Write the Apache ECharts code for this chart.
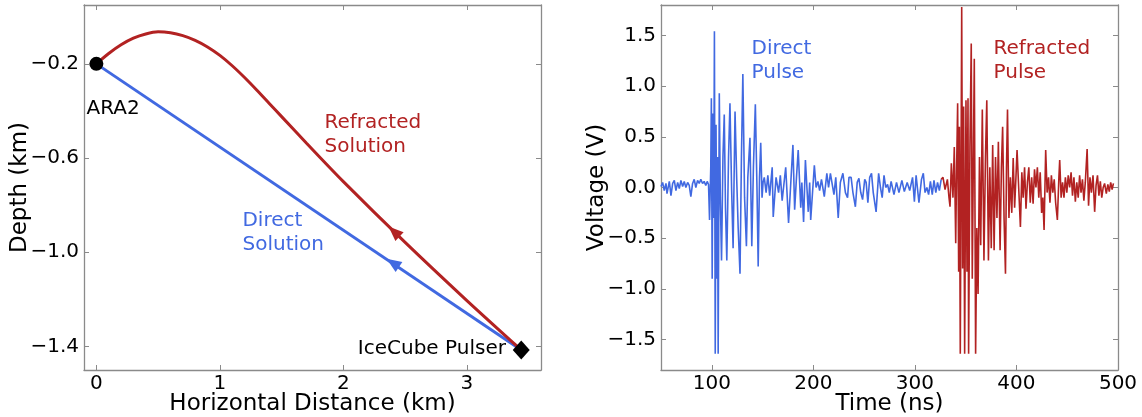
<!DOCTYPE html>
<html>
<head>
<meta charset="utf-8">
<script src="https://cdn.jsdelivr.net/npm/echarts@6/dist/echarts.min.js"></script>
<style>
  html, body { margin: 0; padding: 0; background: #fff; }
  #chart { width: 1142px; height: 417px; }
</style>
</head>
<body>
<div id="chart"></div>
<script>
// left panel: ray paths (km)
const directRayX = [0, 3.44];
const directRayY = [-0.2, -1.415];
const refractedRayX = [0, 0.1, 0.2, 0.3, 0.4, 0.5, 0.6, 0.7, 0.8, 0.9, 1.0, 1.1, 1.2, 1.3, 1.4, 1.5, 1.7, 2.0, 2.5, 3.0, 3.44];
const refractedRayY = [-0.2, -0.156, -0.119, -0.091, -0.073, -0.064, -0.068, -0.08, -0.1, -0.128, -0.164, -0.208, -0.258, -0.312, -0.368, -0.424, -0.536, -0.7, -0.958, -1.205, -1.415];
const stationPos = [0, -0.2];
const pulserPos = [3.44, -1.415];
const directArrow = [2.40, -1.045];
const refractedArrow = [2.41, -0.912];

// right panel: waveform (ns, V)
const directPulseT = [
  50.0, 51.6, 53.2, 54.9, 55.9, 58.2, 59.8, 61.5, 63.1, 64.7, 66.4, 68.0, 69.6, 71.3, 72.9, 74.5,
  76.2, 77.8, 79.4, 81.1, 82.7, 84.3, 86.0, 87.6, 89.2, 90.9, 92.5, 94.1, 95.5, 96.8, 97.8,
  99.0, 99.6, 100.4, 101.2, 101.9, 102.6, 103.4, 104.2, 105.0, 105.6, 106.3, 107.4, 108.4, 109.6,
  111.0, 112.3, 113.5, 114.8, 116.5, 117.9, 119.5, 121.0, 122.9, 124.5, 126.0, 127.8, 129.2, 130.6,
  132.3, 134.1, 135.5, 137.6, 139.4, 141.0, 142.9, 144.5, 145.7, 147.0, 148.2, 149.5, 150.5,
  151.7, 153.5, 155.2, 157.0, 159.5, 160.5, 163.3, 165.8, 167.5, 169.3, 172.8, 175.6, 178.1, 179.9,
  181.6, 183.4, 185.1, 187.6, 188.7, 190.4, 192.2, 195.0, 196.4, 197.4, 201.0, 202.7, 204.5, 206.2,
  208.0, 210.8, 213.3, 215.0, 216.8, 220.3, 222.1, 224.5, 226.6, 229.1, 231.6, 233.7, 235.1, 237.2,
  239.0, 241.4, 243.2, 244.9, 246.7, 248.5, 250.6, 252.0, 253.7, 255.5, 257.3, 259.0, 261.8, 264.3,
  266.1, 267.8, 269.6, 271.3, 273.1, 274.8, 276.6, 279.4, 281.9, 284.3, 287.2, 289.6, 292.4, 294.9,
  297.7, 299.5, 301.2, 304.0, 306.5, 308.3, 310.0, 311.8, 313.5, 315.3, 317.1, 318.8, 320.6, 322.3,
  324.1, 325.9
];
const directPulseV = [
  0.01, 0.05, -0.03, 0.04, -0.06, 0.06, -0.08, 0.04, 0.07, -0.03, 0.05, -0.01, 0.07, 0.01, 0.06, 0.0,
  0.05, 0.02, -0.09, 0.04, 0.08, 0.0, 0.07, 0.04, 0.08, 0.04, 0.06, 0.02, 0.06, 0.03, -0.32,
  0.2, 0.88, -0.9, 0.73, -0.3, 1.54, -1.64, 0.62, -0.9, 0.3, -1.64, 0.93, -0.1, -0.72,
  0.3, 0.72, -0.2, -0.72, 0.3, 0.83, 0.0, -0.6, 0.75, 0.1, -0.4, -0.85, 0.3, 1.12,
  -0.1, -0.58, 0.1, 0.49, -0.58, 0.2, 0.82, 0.0, -0.78, 0.1, 0.44, -0.1, 0.05,
  0.1, -0.05, 0.12, -0.08, 0.2, -0.29, 0.1, -0.05, 0.12, -0.13, 0.2, -0.35, 0.1, 0.42,
  -0.22, 0.1, 0.37, -0.2, 0.05, -0.34, 0.27, -0.24, 0.05, -0.32, 0.22, 0.0, 0.06, -0.03,
  0.08, -0.09, 0.14, 0.0, 0.14, -0.07, 0.1, -0.3, 0.05, 0.14, -0.05, -0.1, 0.1, 0.1,
  -0.05, -0.19, 0.05, 0.09, -0.05, -0.12, 0.08, 0.05, -0.15, 0.1, 0.14, -0.05, -0.24, 0.14,
  0.0, -0.1, 0.12, 0.0, 0.03, -0.05, 0.06, -0.07, 0.05, -0.05, 0.07, -0.04, 0.05, -0.03,
  0.1, -0.14, 0.12, -0.15, 0.08, 0.14, -0.05, 0.0, -0.07, 0.06, -0.07, 0.07, -0.05, 0.05,
  -0.03, 0.08
];
const refractedPulseT = [
  325.9, 327.7, 329.7, 332.0, 333.6, 334.6, 335.9, 337.5, 338.8, 340.2, 341.1, 342.1, 343.1, 343.8,
  344.7, 346.1, 347.0, 348.0, 349.0, 350.3, 351.3, 352.3, 352.9, 354.2, 355.5, 356.5, 357.5, 358.5,
  359.8, 361.0, 362.2, 363.6, 364.8, 366.4, 368.0, 369.5, 370.8, 372.4, 373.8, 375.2, 376.6, 378.0,
  379.4, 380.8, 382.2, 383.9, 385.2, 386.4, 387.8, 389.2, 390.2, 391.2, 392.6, 394.0, 395.4, 396.8,
  398.2, 399.5, 400.6, 402.2, 403.9, 405.3, 406.6, 408.0, 409.4, 410.8, 412.2, 413.6, 415.0, 416.4,
  417.8, 419.2, 420.6, 422.0, 423.4, 424.8, 426.0, 427.2, 428.8, 430.2, 431.6, 433.0, 434.4, 435.8,
  437.2, 438.6, 440.3, 441.8, 442.6, 444.0, 445.4, 446.8, 448.2, 449.6, 451.0, 452.4, 453.8, 455.2,
  456.6, 458.0, 459.4, 460.8, 462.2, 463.6, 465.0, 466.4, 467.8, 469.6, 471.0, 472.4, 473.8, 475.4,
  477.0, 478.4, 479.8, 481.2, 482.6, 484.0, 485.4, 486.8, 488.5, 490.0, 491.4, 492.8, 494.2, 495.5
];
const refractedPulseV = [
  0.08, 0.1, -0.02, 0.08, -0.1, -0.19, 0.24, -0.1, 0.4, -0.55, 0.2, 0.83, -0.83, 0.6,
  -1.64, 1.78, -0.8, 0.8, -1.64, 0.86, -0.83, 0.88, -1.64, 0.4, 1.42, -0.9, 0.2, 1.27,
  -1.64, -0.4, -1.05, 0.3, -0.57, 0.77, -0.72, 0.3, 0.86, -0.72, 0.2, -0.6, 0.42, -0.62,
  0.3, -0.3, 0.45, -0.62, 0.2, 0.6, -0.3, -0.85, 0.2, 0.77, -0.3, 0.1, -0.25, 0.29,
  -0.2, 0.1, 0.37, 0.0, -0.39, 0.15, -0.1, 0.2, -0.21, 0.05, 0.2, -0.15, 0.1, -0.16,
  0.18, 0.0, 0.2, -0.1, 0.15, -0.25, -0.1, -0.42, 0.37, -0.05, 0.1, -0.15, 0.12, -0.05,
  0.08, -0.15, -0.32, 0.1, 0.27, -0.1, 0.05, -0.1, 0.1, -0.05, 0.12, 0.0, 0.15, -0.08,
  0.1, -0.14, 0.05, -0.1, 0.12, -0.05, 0.08, -0.13, 0.05, 0.38, -0.18, 0.1, -0.05, 0.12,
  -0.24, 0.02, 0.12, -0.08, 0.06, -0.1, 0.0, 0.04, -0.06, 0.03, -0.04, 0.05, -0.02, 0.04
];

// ticks
const distTicks = [0, 1, 2, 3];
const depthTicks = [-1.4, -1.0, -0.6, -0.2];
const timeTicks = [100, 200, 300, 400, 500];
const voltTicks = [-1.5, -1.0, -0.5, 0.0, 0.5, 1.0, 1.5];

const BLUE = '#4169e1';
const RED = '#b22222';
const FONT = 'DejaVu Sans';
const FRAME = '#8a8a8a';

const zip = (xs, ys) => xs.map((x, i) => [x, ys[i]]);
const minus = (s) => s.replace('-', '\u2212');

function frameAxis(extra) {
  return Object.assign({
    type: 'value',
    axisLine: { show: true, onZero: false, lineStyle: { color: FRAME, width: 1.3 } },
    splitLine: { show: false },
    axisTick: { show: true, inside: true, length: 5, lineStyle: { color: FRAME } },
    axisLabel: { show: false },
  }, extra);
}

function labelled(ticks, fmt, margin, extra) {
  return frameAxis(Object.assign({
    axisTick: { show: true, inside: true, length: 5, customValues: ticks, lineStyle: { color: FRAME } },
    axisLabel: {
      show: true, customValues: ticks, formatter: fmt,
      color: '#000', fontFamily: FONT, fontSize: 20, margin: margin,
    },
    nameLocation: 'middle',
    nameMoveOverlap: false,
    nameTextStyle: { color: '#000', fontFamily: FONT, fontSize: 23 },
  }, extra));
}

function bare(ticks, extra) {
  return frameAxis(Object.assign({
    axisTick: { show: true, inside: true, length: 5, customValues: ticks, lineStyle: { color: FRAME } },
  }, extra));
}

function note(grid, pos, text, color, align) {
  return {
    type: 'scatter', xAxisIndex: grid * 2, yAxisIndex: grid * 2,
    symbolSize: 1, itemStyle: { color: 'rgba(0,0,0,0)', opacity: 1 }, silent: true,
    data: [pos],
    label: {
      show: true, position: [0, 0], align: align || 'left', verticalAlign: 'top',
      formatter: text, color: color, opacity: 1, fontFamily: FONT, fontSize: 20, lineHeight: 24,
    },
    z: 5,
  };
}

const chart = echarts.init(document.getElementById('chart'), null, { renderer: 'canvas' });

chart.setOption({
  animation: false,
  backgroundColor: '#fff',
  grid: [
    { left: 84, top: 5, width: 457, height: 365, outerBoundsMode: 'none', containLabel: false },
    { left: 661, top: 5, width: 457, height: 365, outerBoundsMode: 'none', containLabel: false },
  ],
  xAxis: [
    labelled(distTicks, (v) => String(v), 4, {
      gridIndex: 0, min: -0.1, max: 3.6, position: 'bottom',
      name: 'Horizontal Distance (km)', nameGap: 23,
    }),
    bare(distTicks, { gridIndex: 0, min: -0.1, max: 3.6, position: 'top' }),
    labelled(timeTicks, (v) => String(v), 4, {
      gridIndex: 1, min: 50, max: 500, position: 'bottom',
      name: 'Time (ns)', nameGap: 23,
    }),
    bare(timeTicks, { gridIndex: 1, min: 50, max: 500, position: 'top' }),
  ],
  yAxis: [
    labelled(depthTicks, (v) => minus(v.toFixed(1)), 5, {
      gridIndex: 0, min: -1.5, max: 0.05, position: 'left',
      name: 'Depth (km)', nameGap: 52,
    }),
    bare(depthTicks, { gridIndex: 0, min: -1.5, max: 0.05, position: 'right' }),
    labelled(voltTicks, (v) => minus(v.toFixed(1)), 5, {
      gridIndex: 1, min: -1.8, max: 1.8, position: 'left',
      name: 'Voltage (V)', nameGap: 52,
    }),
    bare(voltTicks, { gridIndex: 1, min: -1.8, max: 1.8, position: 'right' }),
  ],
  series: [
    {
      type: 'line', xAxisIndex: 0, yAxisIndex: 0, showSymbol: false,
      data: zip(directRayX, directRayY),
      lineStyle: { color: BLUE, width: 3 }, z: 2,
    },
    {
      type: 'line', xAxisIndex: 0, yAxisIndex: 0, showSymbol: false, smooth: 0.3,
      data: zip(refractedRayX, refractedRayY),
      lineStyle: { color: RED, width: 3 }, z: 3,
    },
    {
      type: 'scatter', xAxisIndex: 0, yAxisIndex: 0, symbol: 'triangle',
      symbolSize: [12, 15], symbolRotate: 56, itemStyle: { color: BLUE, opacity: 1 },
      data: [directArrow], z: 4,
    },
    {
      type: 'scatter', xAxisIndex: 0, yAxisIndex: 0, symbol: 'triangle',
      symbolSize: [12, 15], symbolRotate: 47, itemStyle: { color: RED, opacity: 1 },
      data: [refractedArrow], z: 4,
    },
    {
      type: 'scatter', xAxisIndex: 0, yAxisIndex: 0, symbol: 'circle',
      symbolSize: 14, itemStyle: { color: '#000', opacity: 1 }, data: [stationPos], z: 6,
    },
    {
      type: 'scatter', xAxisIndex: 0, yAxisIndex: 0, symbol: 'diamond',
      symbolSize: [17, 19], itemStyle: { color: '#000', opacity: 1 }, data: [pulserPos], z: 6,
    },
    note(0, [-0.076, -0.34], 'ARA2', '#000'),
    note(0, [3.32, -1.36], 'IceCube Pulser', '#000', 'right'),
    note(0, [1.851, -0.4], 'Refracted\nSolution', RED),
    note(0, [1.187, -0.818], 'Direct\nSolution', BLUE),
    {
      type: 'line', xAxisIndex: 2, yAxisIndex: 2, showSymbol: false,
      data: zip(directPulseT, directPulseV),
      lineStyle: { color: BLUE, width: 1.6 }, z: 2,
    },
    {
      type: 'line', xAxisIndex: 2, yAxisIndex: 2, showSymbol: false,
      data: zip(refractedPulseT, refractedPulseV),
      lineStyle: { color: RED, width: 1.6 }, z: 3,
    },
    note(1, [139.6, 1.484], 'Direct\nPulse', BLUE),
    note(1, [377.9, 1.484], 'Refracted\nPulse', RED),
  ],
});
</script>
</body>
</html>
